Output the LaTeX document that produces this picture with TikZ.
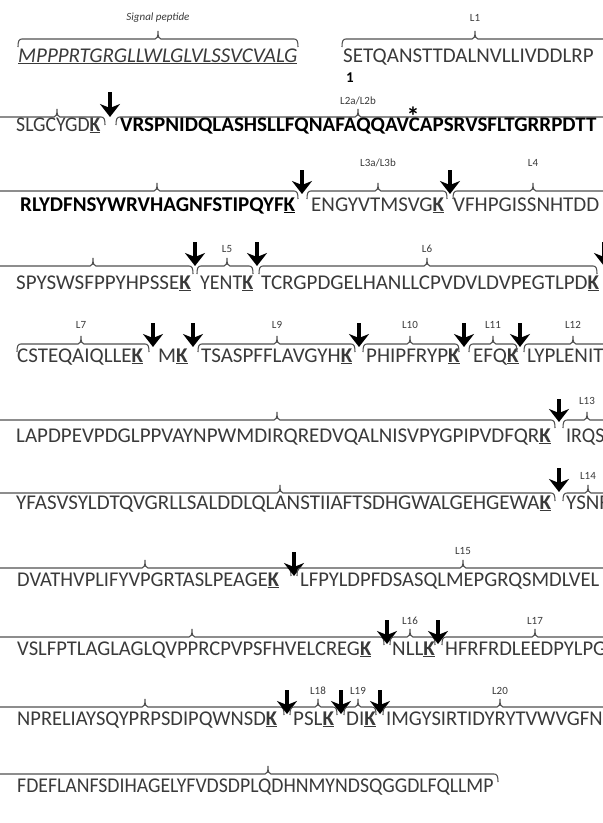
\documentclass[tikz,border=0pt]{standalone}
\usepackage{graphicx}
\usepackage{fontspec}
\setmainfont{Carlito}
\usetikzlibrary{arrows.meta}
\definecolor{seqgray}{HTML}{3A3A3A}
\definecolor{brgray}{HTML}{505050}
\newcommand{\cutK}{\underline{\textbf{K}}}
% domain brace: left end, right end, tip, y of the hook ends
\newcommand{\dombrace}[4]{%
  \draw[domline] (#1,#4) .. controls (#1,#4-6) and (#1+1,#4-8) .. (#1+4,#4-8)
    -- (#3-3,#4-8) .. controls (#3-1,#4-8) and (#3,#4-10) .. (#3,#4-16)
    .. controls (#3,#4-10) and (#3+1,#4-8) .. (#3+3,#4-8)
    -- (#2-4,#4-8) .. controls (#2-1,#4-8) and (#2,#4-6) .. (#2,#4);}

\begin{document}
\begin{tikzpicture}[
    x=1pt, y=-1pt,
    seq/.style={anchor=base west, inner sep=0pt, text=seqgray, font=\fontsize{21}{24}\selectfont},
    bseq/.style={seq, text=black, font=\fontsize{21}{24}\selectfont\bfseries},
    lab/.style={anchor=base, inner sep=0pt, text=seqgray, font=\fontsize{11}{12}\selectfont},
    domline/.style={draw=brgray, line width=1.1pt},
    cleave/.style={draw=black, line width=4.2pt, -{Stealth[length=13pt, width=20pt, inset=4pt]}}
]
\useasboundingbox (0,0) rectangle (603,823);
\clip (0,0) rectangle (603,823);

% Row 0: signal peptide and start of L1
\node[seq] (sp) at (18,62) {\underline{\textit{MPPPRTGRGLLWLGLVLSSVCVALG}}};
\node[seq] (l1a) at (343,62) {SETQANSTTDALNVLLIVDDLRP};
\node[inner sep=0pt, font=\fontsize{15}{16}\selectfont\bfseries] (one) at (350,78) {1};
\dombrace{18}{298}{158}{47}
\dombrace{342}{615}{475}{47}
\node[lab, font=\fontsize{11}{12}\selectfont\itshape] (sptxt) at (158,20) {Signal peptide};
\node[lab] (t-l1) at (475,21) {L1};

% Row 1
\node[seq] (l1b) at (16,131) {\scalebox{0.94}[1]{SLGCYGD\cutK}};
\node[bseq] (l2a) at (120,131) {VRSPNIDQLASHSLLFQNAFAQQAVCAPSRVSFLTGRRPDTT};
\dombrace{-10}{105}{57}{125}
\draw[cleave] (110,92) -- (110,117);
\dombrace{116}{615}{358}{125}
\node[lab] (t-l2) at (358,104) {L2a/L2b};
\node[anchor=base, inner sep=0pt, font=\fontsize{26}{28}\selectfont\bfseries] (ast) at (413,125) {*};

% Row 2
\node[bseq] (l2b) at (20,211) {RLYDFNSYWRVHAGNFSTIPQYF\cutK};
\node[seq] (l3) at (311,211) {ENGYVTMSVG\cutK};
\node[seq] (l4a) at (453,211) {VFHPGISSNHTDD};
\dombrace{-10}{298}{157}{199}
\draw[cleave] (302,170) -- (302,194);
\dombrace{307}{447}{378}{199}
\draw[cleave] (450,170) -- (450,194);
\dombrace{453}{615}{533}{199}
\node[lab] (t-l3) at (378,166) {L3a/L3b};
\node[lab] (t-l4) at (533,166) {L4};

% Row 3
\node[seq] (l4b) at (16,289) {SPYSWSFPPYHPSSE\cutK};
\node[seq] (l5) at (200,289) {\scalebox{0.95}[1]{YENT\cutK}};
\node[seq] (l6) at (261,289) {TCRGPDGELHANLLCPVDVLDVPEGTLPD\cutK};
\dombrace{-10}{193}{93}{274}
\draw[cleave] (195,242) -- (195,266);
\dombrace{197}{253}{227}{274}
\draw[cleave] (257,242) -- (257,266);
\dombrace{259}{597}{427}{274}
\draw[cleave] (604,242) -- (604,266);
\node[lab] (t-l5) at (227,252) {L5};
\node[lab] (t-l6) at (427,252) {L6};

% Row 4
\node[seq] (l7) at (17,362) {CSTEQAIQLLE\cutK};
\node[seq] (mk) at (158,362) {M\cutK};
\node[seq] (l9) at (201,362) {TSASPFFLAVGYH\cutK};
\node[seq] (l10) at (366,362) {PHIPFRYP\cutK};
\node[seq] (l11) at (473,362) {EFQ\cutK};
\node[seq] (l12a) at (527,362) {LYPLENIT};
\dombrace{17}{149}{81}{352}
\draw[cleave] (153,323) -- (153,347);
\draw[cleave] (193,323) -- (193,347);
\dombrace{198}{355}{277}{352}
\draw[cleave] (359,323) -- (359,347);
\dombrace{363}{459}{410}{352}
\draw[cleave] (464,323) -- (464,347);
\dombrace{469}{517}{493}{352}
\draw[cleave] (520,323) -- (520,347);
\dombrace{524}{615}{573}{352}
\node[lab] (t-l7) at (81,328) {L7};
\node[lab] (t-l9) at (277,328) {L9};
\node[lab] (t-l10) at (410,328) {L10};
\node[lab] (t-l11) at (493,328) {L11};
\node[lab] (t-l12) at (573,328) {L12};

% Row 5
\node[seq] (l12b) at (16,442) {LAPDPEVPDGLPPVAYNPWMDIRQREDVQALNISVPYGPIPVDFQR\cutK};
\node[seq] (l13a) at (566,442) {\scalebox{0.95}[1]{IRQS}};
\dombrace{-10}{555}{277}{428}
\draw[cleave] (559,399) -- (559,422);
\dombrace{563}{615}{587}{428}
\node[lab] (t-l13) at (587,404) {L13};

% Row 6
\node[seq] (l13b) at (16,509) {YFASVSYLDTQVGRLLSALDDLQLANSTIIAFTSDHGWALGEHGEWA\cutK};
\node[seq] (l14a) at (566,509) {YSNF};
\dombrace{-10}{555}{280}{501}
\draw[cleave] (559,468) -- (559,492);
\dombrace{563}{615}{588}{501}
\node[lab] (t-l14) at (588,479) {L14};

% Row 7
\node[seq] (l14b) at (17,586) {\scalebox{0.975}[1]{DVATHVPLIFYVPGRTASLPEAGE\cutK}};
\node[seq] (l15a) at (300,586) {\scalebox{0.98}[1]{LFPYLDPFDSASQLMEPGRQSMDLVEL}};
\dombrace{-10}{291}{145}{576}
\draw[cleave] (294,552) -- (294,576);
\dombrace{297}{615}{463}{576}
\node[lab] (t-l15) at (463,554) {L15};

% Row 8
\node[seq] (l15b) at (17,655) {\scalebox{0.98}[1]{VSLFPTLAGLAGLQVPPRCPVPSFHVELCREG\cutK}};
\node[seq] (l16) at (392,655) {NLL\cutK};
\node[seq] (l17a) at (445,655) {\scalebox{0.98}[1]{HFRFRDLEEDPYLPG}};
\dombrace{-10}{384}{192}{645}
\draw[cleave] (387,620) -- (387,644);
\dombrace{390}{435}{410}{645}
\draw[cleave] (438,620) -- (438,644);
\dombrace{442}{615}{535}{645}
\node[lab] (t-l16) at (410,624) {L16};
\node[lab] (t-l17) at (535,624) {L17};

% Row 9
\node[seq] (l17b) at (17,725) {\scalebox{0.975}[1]{NPRELIAYSQYPRPSDIPQWNSD\cutK}};
\node[seq] (l18) at (293,725) {PSL\cutK};
\node[seq] (l19) at (346,725) {DI\cutK};
\node[seq] (l20a) at (386,725) {\scalebox{0.98}[1]{IMGYSIRTIDYRYTVWVGFN}};
\dombrace{-10}{284}{145}{715}
\draw[cleave] (287,690) -- (287,714);
\dombrace{290}{337}{318}{715}
\draw[cleave] (341,690) -- (341,714);
\dombrace{344}{376}{358}{715}
\draw[cleave] (380,690) -- (380,714);
\dombrace{383}{615}{500}{715}
\node[lab] (t-l18) at (318,694) {L18};
\node[lab] (t-l19) at (358,694) {L19};
\node[lab] (t-l20) at (500,694) {L20};

% Row 10
\node[seq] (l20b) at (17,792) {\scalebox{0.94}[1]{FDEFLANFSDIHAGELYFVDSDPLQDHNMYNDSQGGDLFQLLMP}};
\dombrace{-10}{498}{268}{782}

\end{tikzpicture}
\end{document}
